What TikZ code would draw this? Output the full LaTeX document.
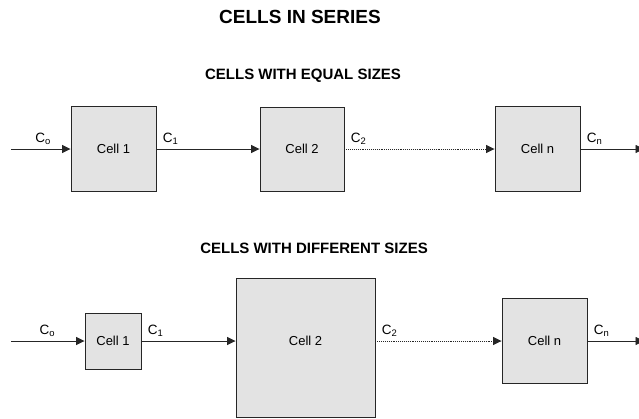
\documentclass[tikz,border=0pt]{standalone}
\usepackage{fontspec}
\setmainfont{Liberation Sans}
\usetikzlibrary{arrows.meta}

\tikzset{
	celltxt/.style={font=\fontsize{13}{15}\selectfont},
	cell/.style={draw=black!85, fill=black!11, line width=0.9pt, inner sep=0pt, celltxt},
	flow/.style={->, line width=0.9pt, draw=black!85},
	lbl/.style={anchor=south west, inner sep=0pt, pos=0, xshift=6pt, yshift=4pt, font=\fontsize{13.5}{15}\selectfont},
	ttlbig/.style={font=\fontsize{19}{22}\selectfont\bfseries},
	ttlsub/.style={font=\fontsize{15}{18}\selectfont\bfseries}
}

\begin{document}
\begin{tikzpicture}[x=1pt, y=-1pt, >={Triangle[length=8.5pt,width=8pt]}]
		\useasboundingbox (0,0) rectangle (639,418);

		% titles
		\node[ttlbig] (ttl) at (300,16.5) {CELLS IN SERIES};
		\node[ttlsub] (ttlA) at (303,76) {CELLS WITH EQUAL SIZES};
		\node[ttlsub] (ttlB) at (314,248) {CELLS WITH DIFFERENT SIZES};

		% equal sizes
		\coordinate (inA) at (11,149);
		\coordinate (outA) at (644,149);

		\node[cell, minimum size=85] (cellA1) at (113.5,149) {Cell 1};
		\node[cell, minimum size=84] (cellA2) at (302,149) {Cell 2};
		\node[cell, minimum size=85] (cellAn) at (537.5,149) {Cell n};

		\draw[flow] (inA) -- (cellA1) node[lbl, pos=0.3] {C\textsubscript{o}};
		\draw[flow] (cellA1) -- (cellA2) node[lbl] {C\textsubscript{1}};
		\draw[flow, densely dotted] (cellA2) -- (cellAn) node[lbl] {C\textsubscript{2}};
		\draw[flow] (cellAn) -- (outA) node[lbl] {C\textsubscript{n}};

		% different sizes
		\coordinate (inB) at (11,341);
		\coordinate (outB) at (644,341);

		\node[cell, minimum size=56] (cellB1) at (113,341) {Cell 1};
		\node[cell, minimum size=139, label={[celltxt, yshift=6.5pt]center:Cell 2}] (cellB2) at (305.5,347.5) {};
		\node[cell, minimum size=85] (cellBn) at (544.5,341) {Cell n};

		\draw[flow] (inB) -- (cellB1) node[lbl, pos=0.3] {C\textsubscript{o}};
		\draw[flow] (cellB1) -- (cellB1 -| cellB2.west) node[lbl] {C\textsubscript{1}};
		\draw[flow, densely dotted] (cellB1 -| cellB2.east) -- (cellBn) node[lbl] {C\textsubscript{2}};
		\draw[flow] (cellBn) -- (outB) node[lbl] {C\textsubscript{n}};
	\end{tikzpicture}
\end{document}
